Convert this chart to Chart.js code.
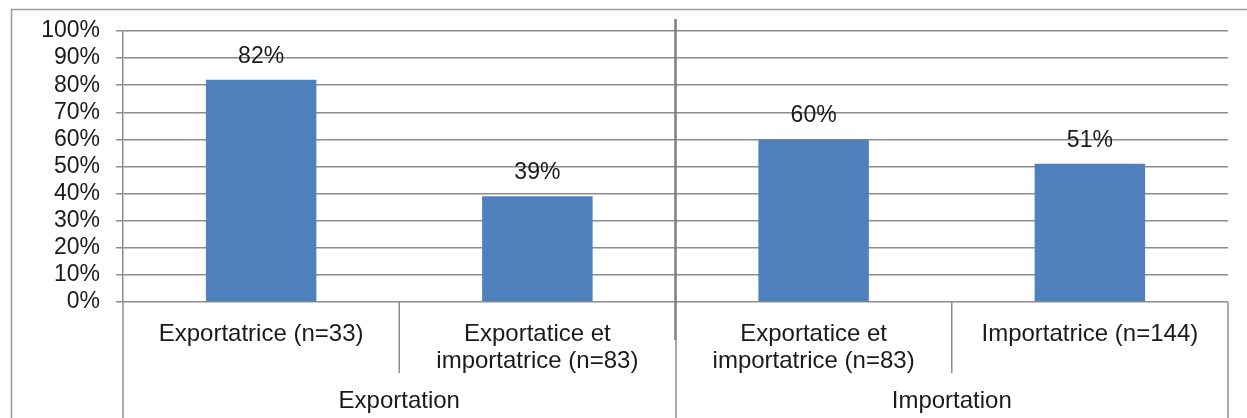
<!DOCTYPE html>
<html>
<head>
<meta charset="utf-8">
<script src="https://cdn.jsdelivr.net/npm/chart.js@4/dist/chart.umd.min.js"></script>
<style>
  html, body { margin: 0; padding: 0; background: #fff; }
  #wrap { width: 1247px; height: 418px; position: relative; }
</style>
</head>
<body>
<div id="wrap"><canvas id="chart" width="1247" height="418"></canvas></div>
<script>
// données
const categories = [
    ["Exportatrice (n=33)"],
    ["Exportatice et", "importatrice (n=83)"],
    ["Exportatice et", "importatrice (n=83)"],
    ["Importatrice (n=144)"]
];
const groups = ["Exportation", "Importation"];
const groupSizes = [2, 2];
const values = [82, 39, 60, 51];
const yMin = 0, yMax = 100, yStep = 10;

const FONT = "'Liberation Sans', Arial, sans-serif";
const TEXT = "#1a1a1a";
const GRID = "#8c8c8c";

const decorations = {
    id: "decorations",
    afterDatasetsDraw(chart) {
        const ctx = chart.ctx;
        const meta = chart.getDatasetMeta(0);

        // valeurs au-dessus des barres
        ctx.save();
        ctx.font = "23px " + FONT;
        ctx.fillStyle = TEXT;
        ctx.textAlign = "center";
        ctx.textBaseline = "alphabetic";
        meta.data.forEach((bar, i) => {
            ctx.fillText(values[i] + "%", bar.x, bar.y - 17);
        });
        ctx.restore();
    },
    afterDraw(chart) {
        const ctx = chart.ctx;
        const x = chart.scales.x;
        const y = chart.scales.y;
        const edge = i => x.getPixelForValue(i - 0.5);
        const base = y.getPixelForValue(0);

        ctx.save();
        // cadre extérieur
        ctx.strokeStyle = "#9a9a9a";
        ctx.lineWidth = 1.5;
        ctx.strokeRect(11.5, 9.5, 1400, 600);

        // prolongement de l'axe vertical
        ctx.strokeStyle = GRID;
        ctx.lineWidth = 1.5;
        ctx.beginPath();
        ctx.moveTo(edge(0), base);
        ctx.lineTo(edge(0), 418);
        ctx.stroke();

        // séparateurs des catégories
        let idx = 0;
        const groupEdges = [0];
        groupSizes.forEach(n => { idx += n; groupEdges.push(idx); });
        for (let i = 1; i < categories.length; i++) {
            if (groupEdges.includes(i)) continue;
            ctx.beginPath();
            ctx.moveTo(edge(i), base);
            ctx.lineTo(edge(i), 373);
            ctx.stroke();
        }
        // séparateurs des groupes
        groupEdges.forEach((g, k) => {
            const px = edge(g);
            if (k === 0) return;
            if (k === groupEdges.length - 1) {
                ctx.beginPath();
                ctx.moveTo(px, base);
                ctx.lineTo(px, 418);
                ctx.stroke();
                return;
            }
            ctx.save();
            ctx.strokeStyle = "#7f7f7f";
            ctx.lineWidth = 2.5;
            ctx.beginPath();
            ctx.moveTo(px, 19);
            ctx.lineTo(px, 340);
            ctx.stroke();
            ctx.restore();
            ctx.beginPath();
            ctx.moveTo(px + 0.5, 340);
            ctx.lineTo(px + 0.5, 418);
            ctx.stroke();
        });

        // libellés des groupes
        ctx.font = "24px " + FONT;
        ctx.fillStyle = TEXT;
        ctx.textAlign = "center";
        ctx.textBaseline = "middle";
        groups.forEach((g, k) => {
            const cx = (edge(groupEdges[k]) + edge(groupEdges[k + 1])) / 2;
            ctx.fillText(g, cx, 401);
        });
        ctx.restore();
    }
};

new Chart(document.getElementById("chart"), {
    type: "bar",
    data: {
        labels: categories,
        datasets: [{
            data: values,
            backgroundColor: "#4f81bd",
            barPercentage: 0.4,
            categoryPercentage: 1.0
        }]
    },
    options: {
        responsive: false,
        animation: false,
        devicePixelRatio: 1,
        layout: { padding: { left: 0, top: 31, right: 19, bottom: 0 } },
        plugins: {
            legend: { display: false },
            tooltip: { enabled: false }
        },
        scales: {
            x: {
                offset: true,
                grid: { display: false },
                border: { display: false },
                ticks: {
                    color: TEXT,
                    font: { family: FONT, size: 24, lineHeight: 1.12 },
                    padding: 11,
                    maxRotation: 0,
                    autoSkip: false
                },
                afterFit(scale) { scale.height = 116; }
            },
            y: {
                min: yMin,
                max: yMax,
                grid: { color: GRID, lineWidth: 1.5, tickLength: 7 },
                border: { color: GRID, width: 1.5 },
                ticks: {
                    stepSize: yStep,
                    autoSkip: false,
                    color: TEXT,
                    font: { family: FONT, size: 23 },
                    padding: 16,
                    callback: v => v + "%"
                },
                afterFit(scale) { scale.width = 123; }
            }
        }
    },
    plugins: [decorations]
});
</script>
</body>
</html>
